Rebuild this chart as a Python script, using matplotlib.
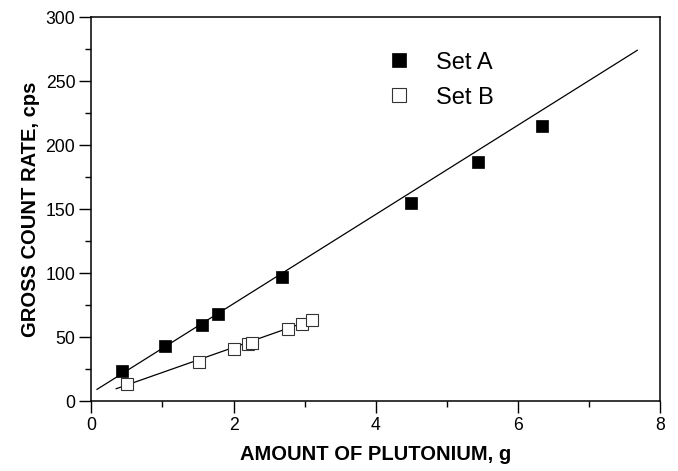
import matplotlib
matplotlib.use("Agg")
import matplotlib.pyplot as plt
from matplotlib.ticker import MultipleLocator

# Data
set_a_x = [0.43, 1.04, 1.55, 1.78, 2.68, 4.50, 5.44, 6.34]
set_a_y = [23.7, 43.0, 59.4, 68.0, 96.6, 154.5, 186.5, 214.8]
set_b_x = [0.50, 1.51, 2.01, 2.20, 2.26, 2.77, 2.96, 3.11]
set_b_y = [13.0, 30.2, 40.9, 44.8, 45.3, 56.0, 60.2, 63.5]
fit_a_x = [0.08, 7.68]
fit_a_y = [9.1, 274.2]
fit_b_x = [0.35, 3.08]
fit_b_y = [9.6, 63.0]
labels = ["Set A", "Set B"]

plt.rcParams['font.family'] = ['Liberation Sans', 'DejaVu Sans']

fig = plt.figure(figsize=(6.78, 4.71), dpi=100)
ax = fig.add_axes([0.1347, 0.1486, 0.9735 - 0.1347, 0.9633 - 0.1486])

ax.plot(fit_a_x, fit_a_y, color='black', lw=0.9, zorder=2)
ax.plot(fit_b_x, fit_b_y, color='black', lw=0.9, zorder=2)
ha, = ax.plot(set_a_x, set_a_y, linestyle='none', marker='s', markersize=8.2,
              markerfacecolor='black', markeredgecolor='black', markeredgewidth=0.5, zorder=3)
hb, = ax.plot(set_b_x, set_b_y, linestyle='none', marker='s', markersize=8.5,
              markerfacecolor='white', markeredgecolor='#333333', markeredgewidth=0.8, zorder=3)

ax.set_xlim(0, 8)
ax.set_ylim(0, 300)
ax.xaxis.set_major_locator(MultipleLocator(2))
ax.xaxis.set_minor_locator(MultipleLocator(1))
ax.yaxis.set_major_locator(MultipleLocator(50))
ax.yaxis.set_minor_locator(MultipleLocator(25))
ax.tick_params(which='major', direction='out', length=8.5, width=1.0, labelsize=12.7, pad=3,
               top=False, right=False)
ax.tick_params(which='minor', direction='out', length=4, width=1.0, top=False, right=False)
for sp in ax.spines.values():
    sp.set_linewidth(1.1)

ax.set_xlabel("AMOUNT OF PLUTONIUM, g", fontsize=14.5, fontweight='bold', labelpad=8)
ax.set_ylabel("GROSS COUNT RATE, cps", fontsize=14.5, fontweight='bold', labelpad=4)

leg = ax.legend([ha, hb], labels, loc='upper left', bbox_to_anchor=(0.503, 0.935),
                frameon=False, fontsize=17, markerscale=1.25, handlelength=1.0,
                handletextpad=1.1, labelspacing=0.55, borderaxespad=0)

fig.savefig("out.png", dpi=100)
